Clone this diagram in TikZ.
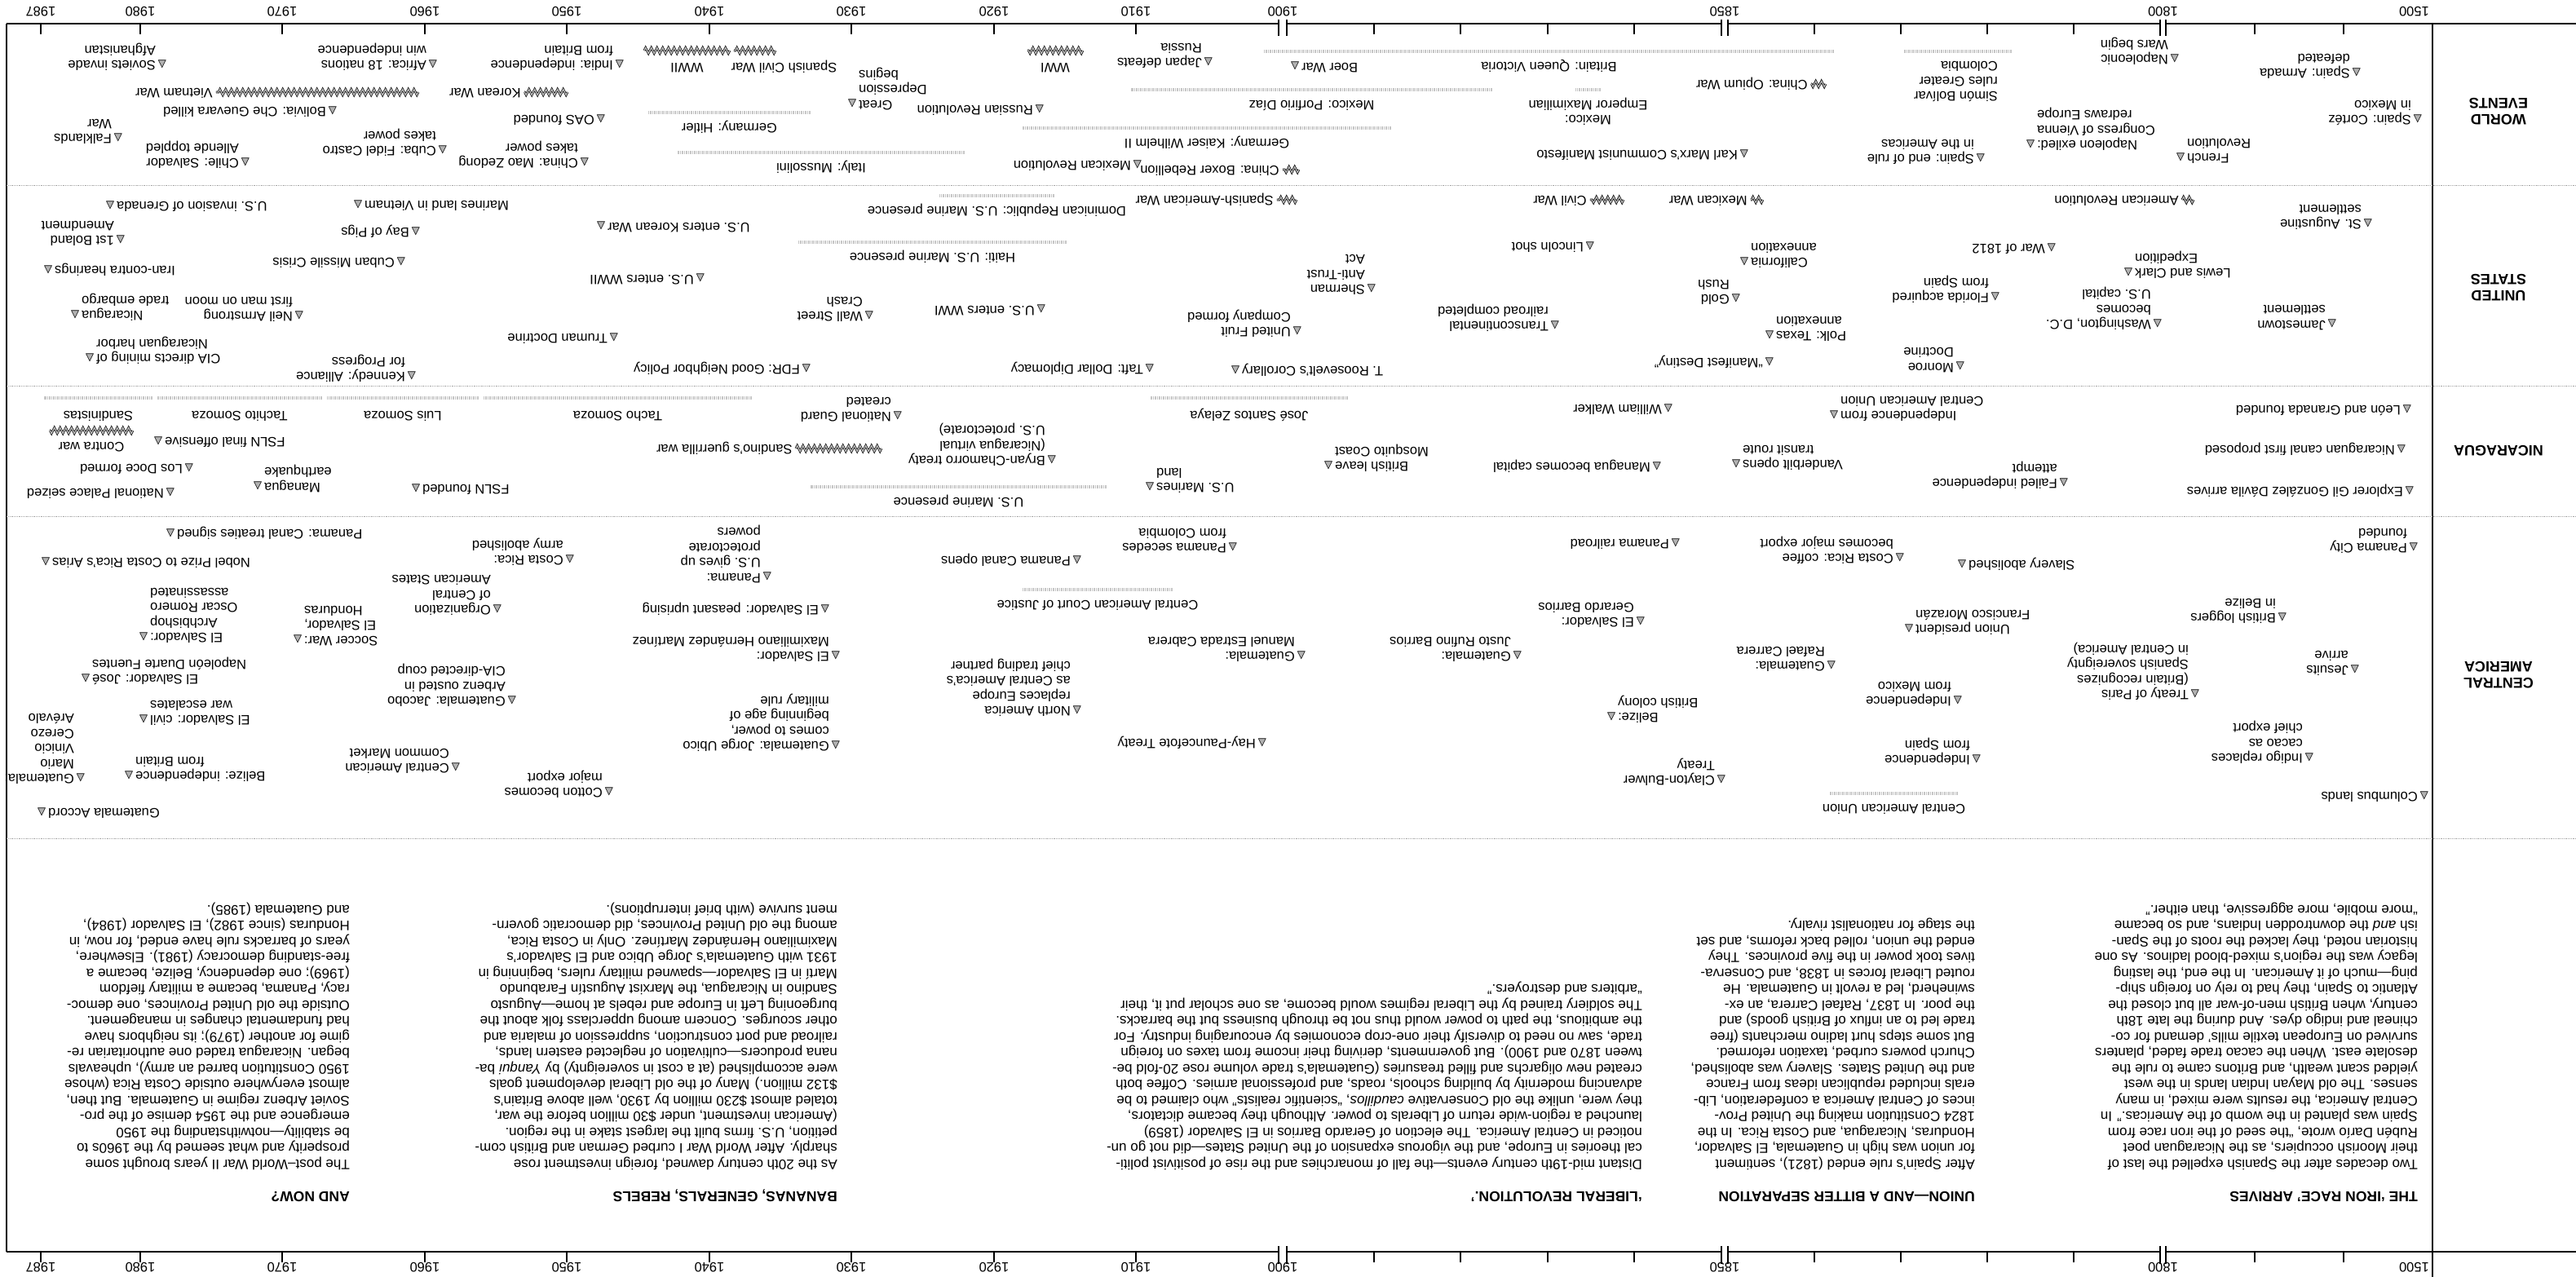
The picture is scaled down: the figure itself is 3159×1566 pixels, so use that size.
\documentclass[tikz,border=0pt]{standalone}
\usepackage{fontspec}
\setmainfont{Liberation Sans}
\newfontfamily\dvs{DejaVu Sans}
\usetikzlibrary{decorations.pathmorphing}

\newcommand\evfont{\fontsize{16.5}{18.5}\selectfont}
\newcommand\parfont{\fontsize{17}{19.5}\selectfont}
\newcommand\tri{{\dvs\fontsize{13}{13}\selectfont\raisebox{0.5pt}{\rlap{\textcolor{gray!60}{▲}}△}}}
\newcommand\trifirst{\llap{\tri\hspace{3pt}}}
\newcommand\trilast{\rlap{\hspace{3pt}\tri}}

\tikzset{
  ev/.style={font=\evfont, inner sep=0pt, align=left, anchor=north west, xshift=8pt, yshift=7pt},
  evr/.style={font=\evfont, inner sep=0pt, align=right, anchor=north east, xshift=-8pt, yshift=7pt},
  evl/.style={font=\evfont, inner sep=0pt, align=left, anchor=north west, yshift=7pt},
  evw/.style={font=\evfont, inner sep=0pt, align=left, anchor=base west, xshift=4pt, yshift=-5pt},
  evc/.style={font=\evfont, inner sep=0pt, align=center, anchor=base, yshift=13pt},
  spanbar/.style={draw=gray!45, line width=4pt, dash pattern=on 1.5pt off 1pt},
  war/.style={draw, line width=0.7pt, double=gray!55, double distance=1.3pt,
    decorate, decoration={zigzag, amplitude=3.5pt, segment length=7pt}},
  rowsep/.style={draw=gray!70, densely dotted, line width=0.8pt},
  axisline/.style={line width=2.6pt},
  tickline/.style={line width=1.4pt},
  yearlab/.style={font=\fontsize{16.5}{18}\selectfont, inner sep=0pt},
  rowlab/.style={font=\fontsize{18}{20}\selectfont\bfseries, align=center, inner sep=0pt},
  head/.style={font=\fontsize{17.5}{20}\selectfont\bfseries, anchor=base west, inner sep=0pt},
  para/.style={font=\parfont, align=left, anchor=north west, inner sep=0pt},
}

\begin{document}
\begin{tikzpicture}[x=1pt, y=1pt, rotate=180, transform shape]
    \useasboundingbox (0,0) rectangle (3159,1566);

    % Time axes
    \draw[axisline] (0,29) -- (503,29);
    \draw[axisline] (510,29) -- (1040,29);
    \draw[axisline] (1048,29) -- (1581,29);
    \draw[axisline] (1591,29) -- (3151,29);
    \draw[axisline] (0,1535) -- (503,1535);
    \draw[axisline] (510,1535) -- (1040,1535);
    \draw[axisline] (1048,1535) -- (1581,1535);
    \draw[axisline] (1591,1535) -- (3151,1535);
    \foreach \p in {503,510,1040,1048,1581,1591} {
        \draw[tickline] (\p,24) -- (\p,44);
        \draw[tickline] (\p,1528) -- (\p,1550);
    }
    \foreach \p in {285,394,616,722,828,934,1155,1261,1368,1474,1766,1940,2115,2289,2464,2638,2813,2987,3109} {
        \draw[tickline] (\p,29) -- (\p,42);
        \draw[tickline] (\p,1535) -- (\p,1548);
    }
    \node[yearlab, anchor=west] (ylo1500) at (180,14) {1500};
    \node[yearlab, anchor=west] (yhi1500) at (180,1554) {1500};
    \foreach \yr/\p in {1800/506.5,1850/1044,1900/1586,1910/1766,1920/1940,1930/2115,1940/2289,1950/2464,1960/2638,1970/2813,1980/2987,1987/3109} {
        \node[yearlab] (ylo\yr) at (\p,14) {\yr};
        \node[yearlab] (yhi\yr) at (\p,1554) {\yr};
    }

    % Frame and rows
    \draw[line width=1.2pt] (176,29) -- (176,1566);
    \draw[line width=1.2pt] (3151,29) -- (3151,1535);
    \foreach \b in {227,473,633,1028} {
        \draw[rowsep] (0,\b) -- (3151,\b);
    }
    \node[rowlab] (rworld) at (95,137) {WORLD\\EVENTS};
    \node[rowlab] (rus) at (95,353) {UNITED\\STATES};
    \node[rowlab] (rnic) at (95,553) {NICARAGUA};
    \node[rowlab] (rca) at (95,828) {CENTRAL\\AMERICA};

    % World events
    \node[ev] (armada) at (269,90) {\trifirst Spain: Armada\\defeated};
    \node[ev] (cortez) at (194,147) {\trifirst Spain: Cortéz\\in Mexico};
    \node[evr] (frenchrev) at (485,194) {French\trilast\\Revolution};
    \node[ev] (napwars) at (492,73) {\trifirst Napoleonic\\Wars begin};
    \node[evr] (vienna) at (669,178) {Napoleon exiled:\trilast\\Congress of Vienna\\redraws Europe};
    \node[ev] (spainend) at (730,195) {\trifirst Spain: end of rule\\in the Americas};
    \draw[spanbar] (692,63) -- (824,63);
    \node[evl] (bolivar) at (709,118) {Simón Bolívar\\rules Greater\\Colombia};
    \draw[war] (920,103) -- (938,103) node[evw] (opium) {China: Opium War};
    \node[ev] (marx) at (1020,190) {\trifirst Karl Marx’s Communist Manifesto};
    \draw[spanbar] (910,63) -- (1609,63) node[midway, evc] (victoria) {Britain: Queen Victoria};
    \draw[spanbar] (1196,110) -- (1227,110) node[midway, evc] (maximilian) {Mexico:\\Emperor Maximilian};
    \draw[spanbar] (1329,110) -- (1772,110) node[midway, evc] (diaz) {Mexico: Porfirio Díaz};
    \draw[spanbar] (1453,157) -- (1905,157) node[midway, evc] (kaiser) {Germany: Kaiser Wilhelm II};
    \draw[war] (1566,208) -- (1586,208) node[evw] (boxer) {China: Boxer Rebellion};
    \node[evr] (boer) at (1571,82) {Boer War\trilast};
    \node[ev] (japan) at (1677,77) {\trifirst Japan defeats\\Russia};
    \node[ev] (mexrev) at (1764,203) {\trifirst Mexican Revolution};
    \draw[war] (1831,62) -- (1899,62) node[midway, evc, yshift=2pt] (wwi) {WWI};
    \node[ev] (russrev) at (1884,135) {\trifirst Russian Revolution};
    \node[evr] (depression) at (2114,128) {Great\trilast\\Depression\\begins};
    \draw[spanbar] (1976,187) -- (2328,187) node[midway, evc] (mussolini) {Italy: Mussolini};
    \draw[spanbar] (2165,138) -- (2364,138) node[midway, evc] (hitler) {Germany: Hitler};
    \draw[war] (2208,62) -- (2259,62) node[midway, evc, xshift=-36pt, yshift=2pt] (spcivil) {Spanish Civil War};
    \draw[war] (2264,62) -- (2369,62) node[midway, evc, yshift=2pt] (wwii) {WWII};
    \node[ev] (india) at (2399,80) {\trifirst India: independence\\from Britain};
    \node[ev] (oas) at (2422,147) {\trifirst OAS founded};
    \node[ev] (mao) at (2442,200) {\trifirst China: Mao Zedong\\takes power};
    \draw[war] (2463,113) -- (2516,113) node[evw] (korea) {Korean War};
    \node[ev] (castro) at (2616,185) {\trifirst Cuba: Fidel Castro\\takes power};
    \node[ev] (africa) at (2628,80) {\trifirst Africa: 18 nations\\win independence};
    \draw[war] (2646,113) -- (2894,113) node[evw] (vietnam) {Vietnam War};
    \node[ev] (che) at (2751,137) {\trifirst Bolivia: Che Guevara killed};
    \node[ev] (allende) at (2858,200) {\trifirst Chile: Salvador\\Allende toppled};
    \node[ev] (afghan) at (2960,80) {\trifirst Soviets invade\\Afghanistan};
    \node[ev] (falklands) at (3014,170) {\trifirst Falklands\\War};

    % United States
    \node[ev] (staug) at (255,275) {\trifirst St. Augustine\\settlement};
    \node[ev] (jamestown) at (299,398) {\trifirst Jamestown\\settlement};
    \draw[war] (469,245) -- (483,245) node[evw] (amrev) {American Revolution};
    \node[ev] (washdc) at (513,398) {\trifirst Washington, D.C.\\becomes\\U.S. capital};
    \node[evr] (lewis) at (549,335) {Lewis and Clark\trilast\\Expedition};
    \node[ev] (war1812) at (643,305) {\trifirst War of 1812};
    \node[ev] (florida) at (712,365) {\trifirst Florida acquired\\from Spain};
    \node[ev] (monroe) at (755,450) {\trifirst Monroe\\Doctrine};
    \node[evr] (texas) at (989,412) {Polk: Texas\trilast\\annexation};
    \node[ev] (destiny) at (989,445) {\trifirst “Manifest Destiny”};
    \draw[war] (997,245) -- (1012,245) node[evw] (mexwar) {Mexican War};
    \node[evr] (california) at (1020,322) {California\trilast\\annexation};
    \node[ev] (goldrush) at (1030,367) {\trifirst Gold\\Rush};
    \draw[war] (1168,245) -- (1209,245) node[evw] (civilwar) {Civil War};
    \node[ev] (lincoln) at (1209,303) {\trifirst Lincoln shot};
    \node[ev] (railroad) at (1252,400) {\trifirst Transcontinental\\railroad completed};
    \node[ev] (sherman) at (1477,355) {\trifirst Sherman\\Anti-Trust\\Act};
    \draw[war] (1569,245) -- (1593,245) node[evw] (spamwar) {Spanish-American War};
    \node[ev] (unitedfruit) at (1568,407) {\trifirst United Fruit\\Company formed};
    \node[evr] (corollary) at (1644,455) {T. Roosevelt’s Corollary\trilast};
    \node[ev] (taft) at (1749,453) {\trifirst Taft: Dollar Diplomacy};
    \draw[spanbar] (1866,240) -- (2007,240) node[midway, evc] (dominican) {Dominican Republic: U.S. Marine presence};
    \draw[spanbar] (1851,297) -- (2180,297) node[midway, evc] (haiti) {Haiti: U.S. Marine presence};
    \node[ev] (uswwi) at (1882,380) {\trifirst U.S. enters WWI};
    \node[ev] (wallst) at (2093,388) {\trifirst Wall Street\\Crash};
    \node[ev] (fdr) at (2170,453) {\trifirst FDR: Good Neighbor Policy};
    \node[ev] (uswwii) at (2300,342) {\trifirst U.S. enters WWII};
    \node[evr] (uskorea) at (2422,278) {U.S. enters Korean War\trilast};
    \node[ev] (truman) at (2406,415) {\trifirst Truman Doctrine};
    \node[ev] (bayofpigs) at (2649,285) {\trifirst Bay of Pigs};
    \node[ev] (kennedy) at (2654,462) {\trifirst Kennedy: Alliance\\for Progress};
    \node[evr] (vietland) at (2720,252) {Marines land in Vietnam\trilast};
    \node[ev] (missile) at (2667,322) {\trifirst Cuban Missile Crisis};
    \node[ev] (armstrong) at (2792,388) {\trifirst Neil Armstrong\\first man on moon};
    \node[evr] (grenada) at (3024,253) {U.S. invasion of Grenada\trilast};
    \node[ev] (boland) at (3011,295) {\trifirst 1st Boland\\Amendment};
    \node[evr] (irancontra) at (3100,332) {Iran-contra hearings\trilast};
    \node[evr] (embargo) at (3067,387) {Nicaragua\trilast\\trade embargo};
    \node[evr] (mining) at (3049,440) {CIA directs mining of\trilast\\Nicaraguan harbor};

    % Nicaragua
    \node[ev] (leon) at (207,503) {\trifirst León and Granada founded};
    \node[ev] (canal) at (214,552) {\trifirst Nicaraguan canal first proposed};
    \node[ev] (gonzalez) at (204,603) {\trifirst Explorer Gil González Dávila arrives};
    \node[ev] (failedind) at (628,593) {\trifirst Failed independence\\attempt};
    \node[evr] (indcau) at (910,510) {Independence from\trilast\\Central American Union};
    \node[ev] (walker) at (1113,502) {\trifirst William Walker};
    \node[evr] (vanderbilt) at (1030,570) {Vanderbilt opens\trilast\\transit route};
    \node[ev] (managua) at (1127,573) {\trifirst Managua becomes capital};
    \node[evr] (britleave) at (1530,572) {British leave\trilast\\Mosquito Coast};
    \draw[spanbar] (1506,488) -- (1748,488) node[midway, evc, yshift=3pt] (zelaya) {José Santos Zelaya};
    \node[evr] (marinesland) at (1749,598) {U.S. Marines\trilast\\land};
    \draw[spanbar] (1802,597) -- (2165,597) node[midway, evc] (nicmarines) {U.S. Marine presence};
    \node[ev] (bryan) at (1869,565) {\trifirst Bryan-Chamorro treaty\\(Nicaragua virtual\\U.S. protectorate)};
    \node[ev] (natguard) at (2058,511) {\trifirst National Guard\\created};
    \draw[war] (2078,550) -- (2183,550) node[evw] (sandino) {Sandino’s guerrilla war};
    \draw[spanbar] (2237,488) -- (2566,488) node[midway, evc, yshift=3pt] (tacho) {Tacho Somoza};
    \draw[spanbar] (2572,488) -- (2758,488) node[midway, evc, yshift=3pt] (luis) {Luis Somoza};
    \draw[spanbar] (2764,488) -- (2966,488) node[midway, evc, yshift=3pt] (tachito) {Tachito Somoza};
    \draw[spanbar] (2972,488) -- (3105,488) node[midway, evc, yshift=3pt] (sandinistas) {Sandinistas};
    \node[evr] (fslnfound) at (2649,600) {FSLN founded\trilast};
    \node[evr] (earthquake) at (2843,597) {Managua\trilast\\earthquake};
    \node[ev] (losdoce) at (2927,575) {\trifirst Los Doce formed};
    \node[ev] (palace) at (2950,605) {\trifirst National Palace seized};
    \node[evr] (offensive) at (2965,542) {FSLN final offensive\trilast};
    \draw[war] (2996,528) -- (3098,528) node[midway, evc, yshift=1pt] (contra) {Contra war};

    % Central America
    \node[ev] (columbus) at (186,977) {\trifirst Columbus lands};
    \node[ev] (panamacity) at (199,672) {\trifirst Panama City\\founded};
    \node[ev] (jesuits) at (271,822) {\trifirst Jesuits\\arrive};
    \node[ev] (indigo) at (327,930) {\trifirst Indigo replaces\\cacao as\\chief export};
    \node[ev] (loggers) at (360,758) {\trifirst British loggers\\in Belize};
    \node[ev] (paris) at (467,852) {\trifirst Treaty of Paris\\(Britain recognizes\\Spanish sovereignty\\in Central America)};
    \node[evr] (slavery) at (753,693) {Slavery abolished\trilast};
    \node[ev] (indspain) at (735,932) {\trifirst Independence\\from Spain};
    \node[ev] (indmexico) at (758,860) {\trifirst Independence\\from Mexico};
    \node[evr] (morazan) at (818,772) {Union president\trilast\\Francisco Morazán};
    \node[ev] (coffee) at (829,685) {\trifirst Costa Rica: coffee\\becomes major export};
    \draw[spanbar] (758,973) -- (915,973) node[midway, evc] (cau) {Central American Union};
    \node[ev] (carrera) at (913,817) {\trifirst Guatemala:\\Rafael Carrera};
    \node[ev] (clayton) at (1048,957) {\trifirst Clayton-Bulwer\\Treaty};
    \node[ev] (panamarr) at (1104,667) {\trifirst Panama railroad};
    \node[ev] (gbarrios) at (1147,763) {\trifirst El Salvador:\\Gerardo Barrios};
    \node[evr] (belizecol) at (1183,880) {Belize:\trilast\\British colony};
    \node[ev] (jrbarrios) at (1298,805) {\trifirst Guatemala:\\Justo Rufino Barrios};
    \node[ev] (cabrera) at (1563,805) {\trifirst Guatemala:\\Manuel Estrada Cabrera};
    \node[ev] (haypaunce) at (1611,912) {\trifirst Hay-Pauncefote Treaty};
    \node[ev] (secedes) at (1647,672) {\trifirst Panama secedes\\from Colombia};
    \draw[spanbar] (1721,723) -- (1905,723) node[midway, evc] (court) {Central American Court of Justice};
    \node[ev] (canalopens) at (1838,688) {\trifirst Panama Canal opens};
    \node[ev] (northam) at (1838,872) {\trifirst North America\\replaces Europe\\as Central America’s\\chief trading partner};
    \node[ev] (protectorate) at (2218,708) {\trifirst Panama:\\U.S. gives up\\protectorate\\powers};
    \node[ev] (uprising) at (2147,748) {\trifirst El Salvador: peasant uprising};
    \node[ev] (martinez) at (2134,805) {\trifirst El Salvador:\\Maximiliano Hernández Martínez};
    \node[ev] (ubico) at (2134,915) {\trifirst Guatemala: Jorge Ubico\\comes to power,\\beginning age of\\military rule};
    \node[ev] (armyabol) at (2460,687) {\trifirst Costa Rica:\\army abolished};
    \node[ev] (odeca) at (2549,748) {\trifirst Organization\\of Central\\American States};
    \node[ev] (cotton) at (2412,972) {\trifirst Cotton becomes\\major export};
    \node[ev] (cacm) at (2600,942) {\trifirst Central American\\Common Market};
    \node[ev] (arbenz) at (2531,860) {\trifirst Guatemala: Jacobo\\Arbenz ousted in\\CIA-directed coup};
    \node[evr] (soccer) at (2794,785) {Soccer War:\trilast\\El Salvador,\\Honduras};
    \node[evr] (canaltreaty) at (2950,655) {Panama: Canal treaties signed\trilast};
    \node[evr] (nobel) at (3103,690) {Nobel Prize to Costa Rica’s Arias\trilast};
    \node[evr] (romero) at (2983,782) {El Salvador:\trilast\\Archbishop\\Oscar Romero\\assassinated};
    \node[evr] (duarte) at (3054,833) {El Salvador: José\trilast\\Napoleón Duarte Fuentes};
    \node[evr] (civilesc) at (2983,883) {El Salvador: civil\trilast\\war escalates};
    \node[evr] (belizeind) at (3001,952) {Belize: independence\trilast\\from Britain};
    \node[ev] (cerezo) at (3060,955) {\trifirst Guatemala:\\Mario\\Vinicio\\Cerezo\\Arévalo};
    \node[evr] (accord) at (3108,997) {Guatemala Accord\trilast};

    % Essays
    \node[head] (h1) at (194,1461) {THE ‘IRON RACE’ ARRIVES};
    \node[para] (p1) at (194,1435) {Two decades after the Spanish expelled the last of\\
their Moorish occupiers, as the Nicaraguan poet\\
Rubén Darío wrote, “the seed of the iron race from\\
Spain was planted in the womb of the Americas.” In\\
Central America, the results were mixed, in many\\
senses. The old Mayan Indian lands in the west\\
yielded scant wealth, and Britons came to rule the\\
desolate east. When the cacao trade faded, planters\\
survived on European textile mills’ demand for co-\\
chineal and indigo dyes. And during the late 18th\\
century, when British men-of-war all but closed the\\
Atlantic to Spain, they had to rely on foreign ship-\\
ping—much of it American. In the end, the lasting\\
legacy was the region’s mixed-blood ladinos. As one\\
historian noted, they lacked the roots of the Span-\\
ish \emph{and} the downtrodden Indians, and so became\\
“more mobile, more aggressive, than either.”};

    \node[head] (h2) at (737,1461) {UNION—AND A BITTER SEPARATION};
    \node[para] (p2) at (737,1435) {After Spain’s rule ended (1821), sentiment\\
for union was high in Guatemala, El Salvador,\\
Honduras, Nicaragua, and Costa Rica. In the\\
1824 Constitution making the United Prov-\\
inces of Central America a confederation, Lib-\\
erals included republican ideas from France\\
and the United States. Slavery was abolished,\\
Church powers curbed, taxation reformed.\\
But some steps hurt ladino merchants (free\\
trade led to an influx of British goods) and\\
the poor. In 1837, Rafael Carrera, an ex-\\
swineherd, led a revolt in Guatemala. He\\
routed Liberal forces in 1838, and Conserva-\\
tives took power in the five provinces. They\\
ended the union, rolled back reforms, and set\\
the stage for nationalist rivalry.};

    \node[head] (h3) at (1145,1461) {‘LIBERAL REVOLUTION.’};
    \node[para] (p3) at (1145,1435) {Distant mid-19th century events—the fall of monarchies and the rise of positivist politi-\\
cal theories in Europe, and the vigorous expansion of the United States—did not go un-\\
noticed in Central America. The election of Gerardo Barrios in El Salvador (1859)\\
launched a region-wide return of Liberals to power. Although they became dictators,\\
they were, unlike the old Conservative \emph{caudillos}, “scientific realists” who claimed to be\\
advancing modernity by building schools, roads, and professional armies. Coffee both\\
created new oligarchs and filled treasuries (Guatemala’s trade volume rose 20-fold be-\\
tween 1870 and 1900). But governments, deriving their income from taxes on foreign\\
trade, saw no need to diversify their one-crop economies by encouraging industry. For\\
the ambitious, the path to power would thus not be through business but the barracks.\\
The soldiery trained by the Liberal regimes would become, as one scholar put it, their\\
“arbiters and destroyers.”};

    \node[head] (h4) at (2132,1461) {BANANAS, GENERALS, REBELS};
    \node[para] (p4) at (2132,1435) {As the 20th century dawned, foreign investment rose\\
sharply. After World War I curbed German and British com-\\
petition, U.S. firms built the largest stake in the region.\\
(American investment, under \$30 million before the war,\\
totaled almost \$230 million by 1930, well above Britain’s\\
\$132 million.) Many of the old Liberal development goals\\
were accomplished (at a cost in sovereignty) by \emph{Yanqui} ba-\\
nana producers—cultivation of neglected eastern lands,\\
railroad and port construction, suppression of malaria and\\
other scourges. Concern among upperclass folk about the\\
burgeoning Left in Europe and rebels at home—Augusto\\
Sandino in Nicaragua, the Marxist Augustín Farabundo\\
Martí in El Salvador—spawned military rulers, beginning in\\
1931 with Guatemala’s Jorge Ubico and El Salvador’s\\
Maximiliano Hernández Martínez. Only in Costa Rica,\\
among the old United Provinces, did democratic govern-\\
ment survive (with brief interruptions).};

    \node[head] (h5) at (2730,1461) {AND NOW?};
    \node[para] (p5) at (2730,1435) {The post–World War II years brought some\\
prosperity and what seemed by the 1960s to\\
be stability—notwithstanding the 1950\\
emergence and the 1954 demise of the pro-\\
Soviet Arbenz regime in Guatemala. But then,\\
almost everywhere outside Costa Rica (whose\\
1950 Constitution barred an army), upheavals\\
began. Nicaragua traded one authoritarian re-\\
gime for another (1979); its neighbors have\\
had fundamental changes in management.\\
Outside the old United Provinces, one democ-\\
racy, Panama, became a military fiefdom\\
(1969); one dependency, Belize, became a\\
free-standing democracy (1981). Elsewhere,\\
years of barracks rule have ended, for now, in\\
Honduras (since 1982), El Salvador (1984),\\
and Guatemala (1985).};
\end{tikzpicture}
\end{document}
